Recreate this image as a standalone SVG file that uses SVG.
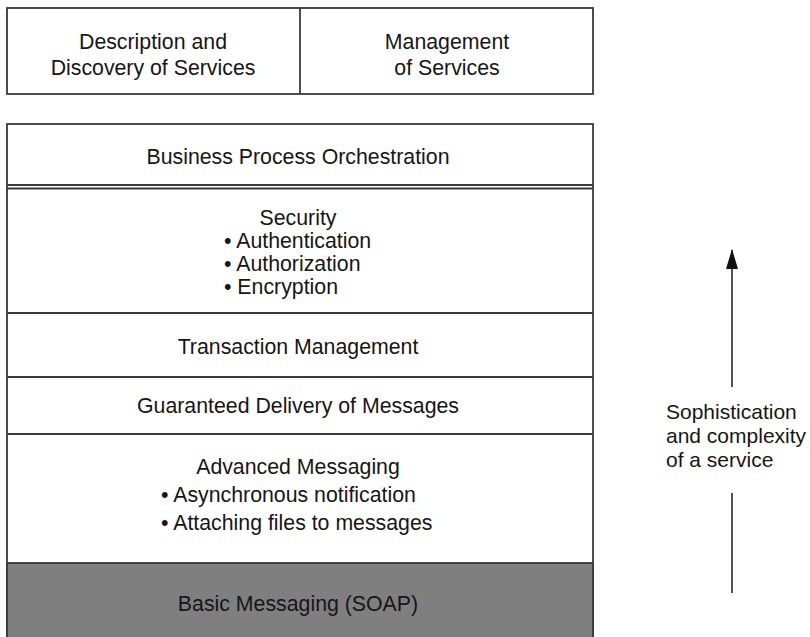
<svg xmlns="http://www.w3.org/2000/svg" width="810" height="637" viewBox="0 0 810 637">
<defs>
<style>
.box{fill:#fff;stroke:#3a3a3a;stroke-width:1.8}
.ln{stroke:#3a3a3a;stroke-width:1.8;fill:none}
.t{font-family:"Liberation Sans",Arial,sans-serif;font-size:21.3px;fill:#161616}
.s{font-size:21px}
.c{text-anchor:middle}
.conn{stroke:#555;stroke-width:2;fill:none}
</style>
<marker id="ah" viewBox="0 0 20 12" refX="19" refY="6" markerWidth="20" markerHeight="12" markerUnits="userSpaceOnUse" orient="auto">
<path d="M0,0 L20,6 L0,12 Z" fill="#111"/>
</marker>
</defs>
<rect width="810" height="637" fill="#fff"/>
<g id="top">
<rect class="box" x="7" y="8" width="586" height="86"/>
<line class="ln" x1="300" y1="8" x2="300" y2="94"/>
<g id="description">
<text class="t c" x="153" y="49">Description and</text>
<text class="t c" x="153" y="75">Discovery of Services</text>
</g>
<g id="management">
<text class="t c" x="447" y="49">Management</text>
<text class="t c" x="447" y="75">of Services</text>
</g>
</g>
<g id="stack">
<rect class="box" x="7" y="124" width="586" height="520"/>
<g id="basic">
<rect x="7" y="563" width="586" height="80" fill="#7f7f7f" stroke="#3a3a3a" stroke-width="1.8"/>
<text class="t c" x="298" y="611">Basic Messaging (SOAP)</text>
</g>
<g id="bpo">
<text class="t c" x="298" y="164">Business Process Orchestration</text>
</g>
<line class="ln" x1="7" y1="185" x2="593" y2="185"/>
<line class="ln" x1="7" y1="188.5" x2="593" y2="188.5"/>
<g id="security">
<text class="t c" x="298" y="225">Security</text>
<text class="t" x="224" y="248">• Authentication</text>
<text class="t" x="224" y="271">• Authorization</text>
<text class="t" x="224" y="294">• Encryption</text>
</g>
<line class="ln" x1="7" y1="313" x2="593" y2="313"/>
<g id="transaction">
<text class="t c" x="298" y="354">Transaction Management</text>
</g>
<line class="ln" x1="7" y1="377" x2="593" y2="377"/>
<g id="guaranteed">
<text class="t c" x="298" y="413">Guaranteed Delivery of Messages</text>
</g>
<line class="ln" x1="7" y1="434" x2="593" y2="434"/>
<g id="advanced">
<text class="t c" x="298" y="474">Advanced Messaging</text>
<text class="t" x="161" y="502">• Asynchronous notification</text>
<text class="t" x="161" y="530">• Attaching files to messages</text>
</g>
</g>
<g id="connectors">
<line class="conn" x1="732" y1="387" x2="732" y2="250" marker-end="url(#ah)"/>
<line class="conn" x1="732" y1="493" x2="732" y2="593"/>
</g>
<g id="label">
<text class="t s" x="666" y="419">Sophistication</text>
<text class="t s" x="666" y="443">and complexity</text>
<text class="t s" x="666" y="467">of a service</text>
</g>
</svg>
